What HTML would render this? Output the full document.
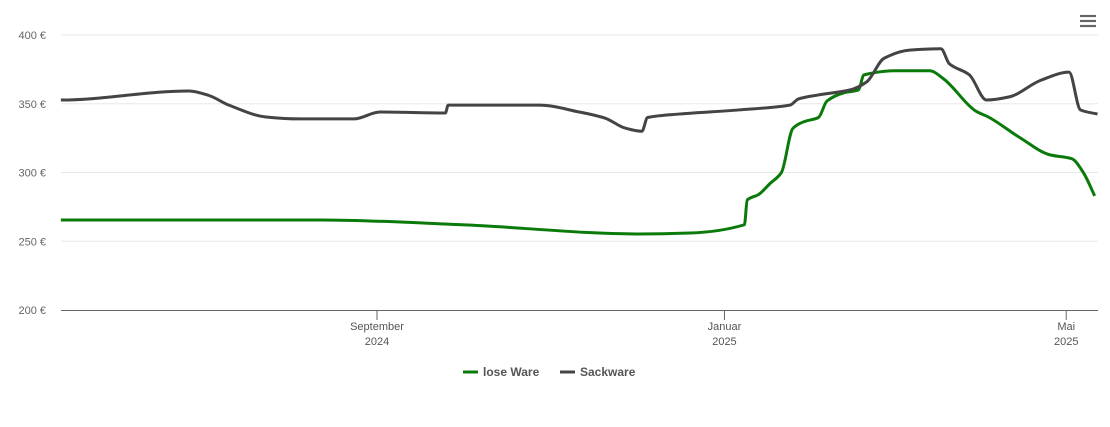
<!DOCTYPE html>
<html><head><meta charset="utf-8"><style>
body{margin:0;background:#fff;font-family:"Liberation Sans",sans-serif;}
svg text{font-family:"Liberation Sans",sans-serif;}
</style></head><body>
<svg id="chart" width="1110" height="422" xmlns="http://www.w3.org/2000/svg">
<g id="grid"></g><g id="axes"></g><g id="series"></g>
<g stroke="#666" stroke-width="2.2">
<line x1="1080" y1="16" x2="1096" y2="16"/><line x1="1080" y1="21" x2="1096" y2="21"/><line x1="1080" y1="26" x2="1096" y2="26"/></g>
<g>
<g><line x1="463" y1="372" x2="478" y2="372" stroke="#0a7a0a" stroke-width="3"/><text x="483" y="376" font-size="12" font-weight="bold" fill="#555">lose Ware</text></g>
<g><line x1="560" y1="372" x2="575" y2="372" stroke="#444" stroke-width="3"/><text x="580" y="376" font-size="12" font-weight="bold" fill="#555">Sackware</text></g>
</g>
</svg>
<script>
const yTicks=[200,250,300,350,400];
const xTickDays=[0,122,242];
const xTickLabels=[["September","2024"],["Januar","2025"],["Mai","2025"]];
const loseDays=[-111,-20,30,92,110,129,130,134,138,142,146,150,155,158,164,169,171,182,194,199,210,215,226,236,244,248,252];
const loseVals=[265.5,265.5,262,255.3,256,262,280,284,292,300,332,337,340,352,358,360,371,374,374,368,345,340,325,313,310,300,283];
const sackDays=[-111,-66,-59,-52,-39,-27,-8,1,24,25,57,71,80,87,93,95,106,127,145,148,155,166,172,178,187,198,201,208,214,222,233,243,247,253];
const sackVals=[352.7,359.3,356,349,340.4,339,339,344,343.3,349,349,344,339.6,332.4,330,340,342.5,345.5,349,353.5,356.4,360,366,383,389,390,379,371,352.7,355,367,373,345.5,342.5];
const NS="http://www.w3.org/2000/svg";
const X=d=>377+d*2.848, Y=v=>310-(v-200)*1.375;
function mk(t,a,p){const e=document.createElementNS(NS,t);for(const k in a)e.setAttribute(k,a[k]);p.appendChild(e);return e;}
const grid=document.getElementById('grid'),axes=document.getElementById('axes'),ser=document.getElementById('series');
yTicks.forEach(v=>{
 if(v>200){const l=mk('line',{x1:61,x2:1098,y1:Y(v),y2:Y(v),stroke:'#e8e8e8','stroke-width':1},grid);
 
 }
 const t=mk('text',{x:46,y:Y(v)+4,'text-anchor':'end','font-size':11,fill:'#666'},axes);t.textContent=v+' €';
 
 
});
const ax=mk('line',{x1:61,x2:1098,y1:310.5,y2:310.5,stroke:'#666','stroke-width':1},axes);


xTickDays.forEach((d,i)=>{
 mk('line',{x1:X(d),x2:X(d),y1:310,y2:320,stroke:'#666'},axes);
 const t=mk('text',{x:X(d),y:330,'text-anchor':'middle','font-size':11,fill:'#555'},axes);
 
 
 t.textContent=xTickLabels[i][0];
 const t2=mk('text',{x:X(d),y:345,'text-anchor':'middle','font-size':11,fill:'#555'},axes);t2.textContent=xTickLabels[i][1];
});
function path(ds,vs){
 const p=ds.map((d,i)=>[X(d),Y(vs[i])]);const n=p.length;
 const sl=[];for(let i=0;i<n-1;i++)sl.push((p[i+1][1]-p[i][1])/(p[i+1][0]-p[i][0]));
 const m=[];for(let i=0;i<n;i++){
  if(i==0)m.push(0);else if(i==n-1)m.push(sl[n-2]);
  else{const a=sl[i-1],b=sl[i];m.push(a*b<=0?0:2*a*b/(a+b));}}
 let s='M'+p[0][0]+','+p[0][1];
 for(let i=0;i<n-1;i++){const dx=(p[i+1][0]-p[i][0])/3;
  s+=` C${p[i][0]+dx},${p[i][1]+m[i]*dx} ${p[i+1][0]-dx},${p[i+1][1]-m[i+1]*dx} ${p[i+1][0]},${p[i+1][1]}`;}
 return s;}
const g=mk('path',{d:path(loseDays,loseVals),fill:'none',stroke:'#0a7a0a','stroke-width':3},ser);


const s=mk('path',{d:path(sackDays,sackVals),fill:'none',stroke:'#444','stroke-width':3},ser);


</script>
</body></html>
